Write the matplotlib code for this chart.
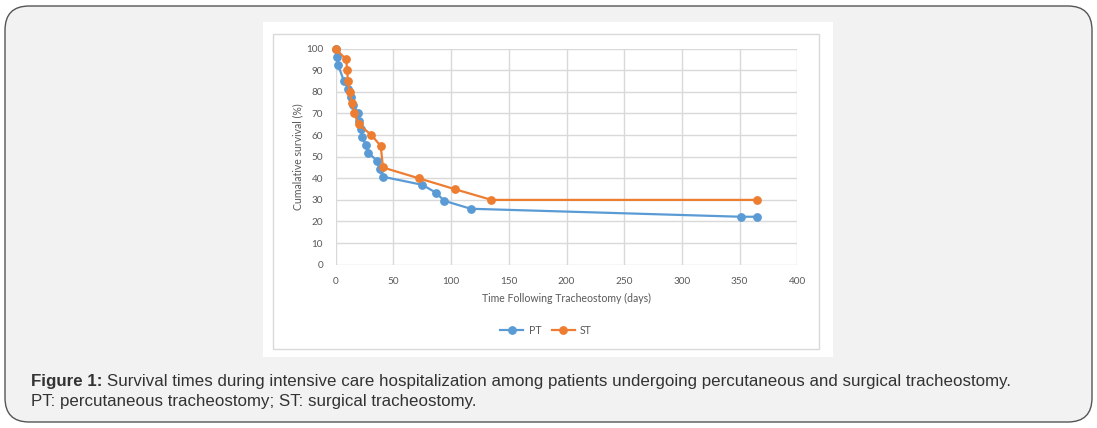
import matplotlib
matplotlib.use("Agg")
import matplotlib.pyplot as plt
from matplotlib.patches import FancyBboxPatch, Rectangle

# Survival data (days, % surviving)
pt_days = [0, 1, 2, 7, 11, 13, 15, 19, 20, 22, 23, 26, 28, 36, 38, 41,
           75, 87, 94, 117, 351, 365]
pt_surv = [100, 96.3, 92.6, 85.2, 81.5, 77.8, 74.1, 70.4, 66.7, 63.0, 59.3,
           55.6, 51.9, 48.1, 44.4, 40.7, 37.0, 33.3, 29.6, 25.9, 22.2, 22.2]

st_days = [0, 9, 10, 10.5, 12, 14, 16, 20, 31, 39, 41, 72, 103, 135, 365]
st_surv = [100, 95, 90, 85, 80, 75, 70, 65, 60, 55, 45, 40, 35, 30, 30]

x_ticks = list(range(0, 401, 50))
y_ticks = list(range(0, 101, 10))

blue = "#5B9BD5"
orange = "#ED7D31"
grey_txt = "#595959"
grid_col = "#D9D9D9"
tick_font = "Lato"

W, H = 1097, 428
fig = plt.figure(figsize=(W / 100, H / 100), dpi=100)
fig.patch.set_facecolor("white")

# outer rounded caption box
box = FancyBboxPatch((5 / W, 1 - 422 / H), 1087 / W, 416 / H,
                     boxstyle="round,pad=0,rounding_size=0.022",
                     transform=fig.transFigure, facecolor="#F2F2F2",
                     edgecolor="#555555", linewidth=1.0, mutation_aspect=W / H,
                     zorder=-10)
fig.patches.append(box)

# white panel holding the chart
fig.patches.append(Rectangle((263 / W, 1 - 357 / H), 570 / W, 335 / H,
                             transform=fig.transFigure, facecolor="white",
                             edgecolor="none", zorder=-9))
# chart-area border
fig.patches.append(Rectangle((273 / W, 1 - 349 / H), 546 / W, 315 / H,
                             transform=fig.transFigure, facecolor="none",
                             edgecolor=grid_col, linewidth=1.0, zorder=-8))

# plot area
ax = fig.add_axes([335.7 / W, 1 - 264.7 / H, 461.6 / W, 216 / H])
ax.set_facecolor("white")
ax.plot(pt_days, pt_surv, "-o", color=blue, linewidth=1.6, markersize=5.3,
        label="PT", zorder=3, clip_on=False)
ax.plot(st_days, st_surv, "-o", color=orange, linewidth=1.6, markersize=5.3,
        label="ST", zorder=4, clip_on=False)

ax.set_xlim(0, 400)
ax.set_ylim(0, 100)
ax.set_xticks(x_ticks)
ax.set_yticks(y_ticks)
ax.grid(True, color=grid_col, linewidth=1.0)
ax.set_axisbelow(True)
for s in ax.spines.values():
    s.set_visible(False)
ax.tick_params(length=0, labelsize=7.2, labelcolor=grey_txt, pad=9)
for lab in ax.get_xticklabels() + ax.get_yticklabels():
    lab.set_fontfamily(tick_font)
ax.set_xlabel("Time Following Tracheostomy (days)", fontsize=7.6,
              color=grey_txt, family=tick_font, labelpad=5)
ax.set_ylabel("Cumalative survival (%)", fontsize=7.6, color=grey_txt,
              family=tick_font, labelpad=2)

leg = ax.legend(loc="center", bbox_to_anchor=(546 / W, 1 - 330 / H),
                bbox_transform=fig.transFigure, ncol=2, frameon=False,
                fontsize=7.6, handlelength=2.2, columnspacing=1.0,
                handletextpad=0.5, markerscale=1.0)
for t in leg.get_texts():
    t.set_color(grey_txt)
    t.set_fontfamily(tick_font)

# caption
cap_font = "Liberation Sans"
cap_size = 12.2
t1 = fig.text(31 / W, 1 - 386 / H, "Figure 1:", fontsize=cap_size,
              fontweight="bold", family=cap_font, color="#333333",
              va="baseline", ha="left")
fig.canvas.draw()
bb = t1.get_window_extent()
fig.text(bb.x1 / W + 5 / W, 1 - 386 / H,
         "Survival times during intensive care hospitalization among patients "
         "undergoing percutaneous and surgical tracheostomy.",
         fontsize=cap_size, family=cap_font, color="#333333", va="baseline",
         ha="left")
fig.text(31 / W, 1 - 406 / H,
         "PT: percutaneous tracheostomy; ST: surgical tracheostomy.",
         fontsize=cap_size, family=cap_font, color="#333333", va="baseline",
         ha="left")

fig.savefig("out.png", dpi=100)
